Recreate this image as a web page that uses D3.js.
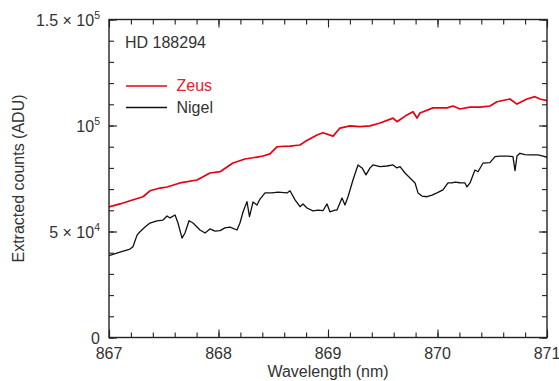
<!DOCTYPE html>
<html>
<head>
<meta charset="utf-8">
<script src="https://cdn.jsdelivr.net/npm/d3@7"></script>
<style>
  body { margin: 0; background: #fff; }
  text { font-family: "Liberation Sans", Arial, sans-serif; fill: #333; }
</style>
</head>
<body>
<svg id="chart" width="559" height="381"></svg>
<script>
// spectrum readings, wavelength in nm and counts in ADU
var nigelWl = [867.000,867.100,867.192,867.219,867.256,867.283,867.329,867.374,867.438,867.493,
  867.530,867.557,867.603,867.630,867.667,867.694,867.731,867.767,867.831,867.877,
  867.922,867.968,868.014,868.059,868.105,868.169,868.196,868.224,868.260,868.283,
  868.315,868.352,868.379,868.425,868.489,868.543,868.626,868.653,868.699,868.744,
  868.772,868.808,868.863,868.909,868.954,868.991,869.018,869.064,869.082,869.128,
  869.155,869.183,869.228,869.274,869.311,869.347,869.384,869.411,869.475,869.539,
  869.594,869.630,869.658,869.703,869.749,869.795,869.822,869.858,869.904,869.950,
  869.995,870.050,870.096,870.132,870.160,870.205,870.251,870.269,870.297,870.342,
  870.370,870.416,870.479,870.525,870.571,870.635,870.689,870.708,870.726,870.753,
  870.799,870.845,870.918,870.963,871.000];
var nigelCounts = [38600,40300,41700,42800,48300,49900,52100,54000,55000,55400,
  57300,56400,57800,54000,46900,49300,55100,54000,50700,49300,
  51200,50200,50400,51700,52100,50700,54000,59200,64100,57000,
  63900,62500,65300,68200,68200,68600,68200,69200,64900,61700,
  63000,61100,59700,60100,59800,63000,59300,60100,60100,65800,
  62500,66400,74300,81400,80000,76700,80000,81400,80600,80900,
  81400,80000,80600,77600,75200,72900,68200,66700,66400,67200,
  68200,69600,72900,72900,73300,73000,72900,71000,72900,79000,
  78200,82300,82500,85300,85600,85600,85300,78700,85600,86900,
  86300,86100,86100,85600,85000];

var zeusWl = [867.000,867.100,867.192,867.311,867.374,867.466,867.530,867.648,867.804,867.922,
  868.014,868.132,868.242,868.352,868.406,868.470,868.534,868.562,868.653,868.744,
  868.790,868.900,868.954,869.046,869.110,869.201,869.292,869.384,869.475,869.594,
  869.630,869.721,869.776,869.813,869.840,869.959,870.087,870.142,870.205,870.297,
  870.388,870.479,870.543,870.662,870.726,870.817,870.890,870.936,871.000];
var zeusCounts = [61600,63000,64500,66400,69200,70500,71000,72900,74300,77600,
  78200,82300,84200,85100,85600,86600,89900,90100,90300,90800,
  92400,95500,96600,95000,98800,99800,99500,99800,101200,103500,
  101800,105000,106500,103500,105900,108300,108300,109200,107800,108700,
  108700,109200,111200,112500,110100,112500,113600,112500,111700];

var xTicks = [867, 868, 869, 870, 871];
var yTicks = [
  {v: 0, base: "0", exp: ""},
  {v: 50000, base: "5 \u00d7 10", exp: "4"},
  {v: 100000, base: "10", exp: "5"},
  {v: 150000, base: "1.5 \u00d7 10", exp: "5"}
];
var series = [
  {name: "Zeus", wl: zeusWl, counts: zeusCounts, color: "#e60012", width: 1.7},
  {name: "Nigel", wl: nigelWl, counts: nigelCounts, color: "#111", width: 1.3}
];

var svg = d3.select("#chart"),
    margin = {top: 19.5, left: 109, right: 12, bottom: 43.5},
    width = 559 - margin.left - margin.right,
    height = 381 - margin.top - margin.bottom;

var x = d3.scaleLinear().domain([867, 871]).range([0, width]);
var y = d3.scaleLinear().domain([0, 150000]).range([height, 0]);

var g = svg.append("g").attr("transform", "translate(" + margin.left + "," + margin.top + ")");

// lines
var line = d3.line()
  .x(function(d){ return x(d[0]); })
  .y(function(d){ return y(d[1]); });

g.append("clipPath").attr("id", "clip")
  .append("rect").attr("width", width).attr("height", height);

series.forEach(function(s){
  var pts = s.wl.map(function(w, i){ return [w, s.counts[i]]; });
  g.append("path")
    .datum(pts)
    .attr("clip-path", "url(#clip)")
    .attr("fill", "none")
    .attr("stroke", s.color)
    .attr("stroke-width", s.width)
    .attr("stroke-linejoin", "round")
    .attr("d", line);
});

// inward ticks on all four sides
var xMinor = d3.range(867, 871.001, 0.2),
    yMinor = d3.range(0, 150001, 10000);

function tickAxis(axis, tr) {
  var a = g.append("g").attr("transform", tr || null).call(axis);
  a.selectAll("text").remove();
  a.select(".domain").remove();
  a.selectAll("line").attr("stroke", "#222").attr("stroke-width", 1.1);
  return a;
}
tickAxis(d3.axisBottom(x).tickValues(xMinor).tickSize(-5), "translate(0," + height + ")");
tickAxis(d3.axisBottom(x).tickValues(xTicks).tickSize(-8), "translate(0," + height + ")");
tickAxis(d3.axisTop(x).tickValues(xMinor).tickSize(-5));
tickAxis(d3.axisTop(x).tickValues(xTicks).tickSize(-8));
tickAxis(d3.axisLeft(y).tickValues(yMinor).tickSize(-5));
tickAxis(d3.axisLeft(y).tickValues(yTicks.map(function(t){ return t.v; })).tickSize(-8));
tickAxis(d3.axisRight(y).tickValues(yMinor).tickSize(-5), "translate(" + width + ",0)");
tickAxis(d3.axisRight(y).tickValues(yTicks.map(function(t){ return t.v; })).tickSize(-8), "translate(" + width + ",0)");

// frame
g.append("rect")
  .attr("width", width).attr("height", height)
  .attr("fill", "none").attr("stroke", "#222").attr("stroke-width", 1.4);

// x tick labels
g.selectAll(".xlab").data(xTicks).enter().append("text")
  .attr("x", function(d){ return x(d); })
  .attr("y", height + 21)
  .attr("text-anchor", "middle")
  .attr("font-size", 16)
  .text(function(d){ return d; });

// y tick labels with exponents
var yl = g.selectAll(".ylab").data(yTicks).enter().append("text")
  .attr("x", -9)
  .attr("y", function(d){ return y(d.v) + 6; })
  .attr("text-anchor", "end")
  .attr("font-size", 16);
yl.append("tspan").text(function(d){ return d.base; });
yl.append("tspan")
  .attr("font-size", 10.5)
  .attr("dy", -7)
  .text(function(d){ return d.exp; });

// axis titles
g.append("text")
  .attr("x", width / 2).attr("y", height + 39.5)
  .attr("text-anchor", "middle").attr("font-size", 16)
  .text("Wavelength (nm)");
g.append("text")
  .attr("transform", "translate(" + (24 - margin.left) + "," + (height / 2) + ") rotate(-90)")
  .attr("text-anchor", "middle").attr("font-size", 16)
  .text("Extracted counts (ADU)");

// star name and legend
g.append("text").attr("x", 16).attr("y", 28.8).attr("font-size", 16).text("HD 188294");

var leg = g.selectAll(".leg").data(series).enter().append("g")
  .attr("transform", function(d, i){ return "translate(17," + (66.5 + i * 21.5) + ")"; });
leg.append("line")
  .attr("x1", 0).attr("x2", 41)
  .attr("stroke", function(d){ return d.color; })
  .attr("stroke-width", 1.3);
leg.append("text")
  .attr("x", 50.5).attr("y", 5)
  .attr("font-size", 16)
  .style("fill", function(d){ return d.name === "Zeus" ? "#e8202e" : "#333"; })
  .text(function(d){ return d.name; });
</script>
</body>
</html>
